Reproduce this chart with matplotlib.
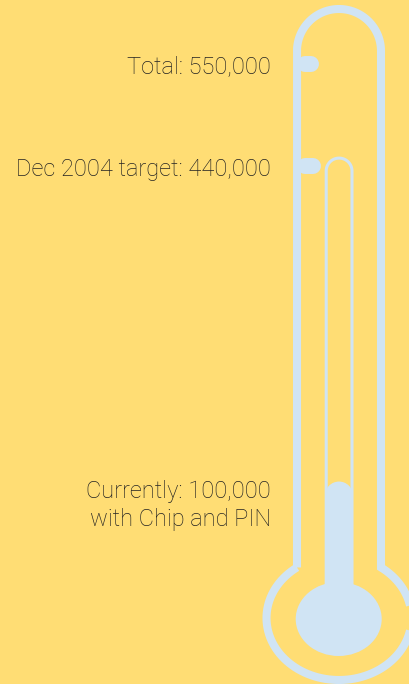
import matplotlib.pyplot as plt
from matplotlib.patches import Ellipse, Rectangle, Circle
import numpy as np

# chart data
labels = ['Total: 550,000', 'Dec 2004 target: 440,000',
          'Currently: 100,000\nwith Chip and PIN']
values = [550000, 440000, 100000]   # total, target, current

bg = '#FFDD74'
blue = '#D0E4F4'
ink = '#222222'

W, H = 409, 684
v_top, v_bot = 618500, -118000      # value scale at top/bottom edge
k = (v_top - v_bot) / H              # value units per pixel

def X(px):
    return np.asarray(px) * k

def Y(py):
    return v_top - np.asarray(py) * k

fig = plt.figure(figsize=(W / 100, H / 100), dpi=100, facecolor=bg)
ax = fig.add_axes([0, 0, 1, 1])
ax.set_facecolor(bg)
ax.set_xlim(0, W * k)
ax.set_ylim(v_bot, v_top)
ax.set_aspect('equal')
ax.axis('off')

# outer glass outline (pixel geometry)
cx = 339
lx, rx, r_top, cy_top = 297, 381, 42, 51
a, b, cy_ring = 72.5, 62, 618
t_left = np.degrees(np.arccos((lx - cx) / a))
t_right = 180 - t_left
th = np.linspace(np.pi, 0, 60)
top_x = cx + r_top * np.cos(th)
top_y = cy_top - r_top * np.sin(th)
t_r = np.radians(np.linspace(t_right, t_left - 360, 200))
ring_x = cx + a * np.cos(t_r)
ring_y = cy_ring - b * np.sin(t_r)
ox = np.concatenate([[lx], top_x, [rx], ring_x])
oy = np.concatenate([[ring_y[-1]], top_y, [ring_y[0]], ring_y])
ax.plot(X(ox), Y(oy), color=blue, lw=5.8, solid_joinstyle='miter',
        solid_capstyle='butt', zorder=2)

# inner capillary outline
ir, icy, ix = 12.9, 171, 339.1
th2 = np.linspace(np.pi, 0, 40)
inx = np.concatenate([[ix - ir], ix + ir * np.cos(th2), [ix + ir]])
iny = np.concatenate([[600], icy - ir * np.sin(th2), [600]])
ax.plot(X(inx), Y(iny), color=blue, lw=2.2, zorder=2)

# bulb
ax.add_patch(Ellipse((X(338.7), Y(619)), 86 * k, 74 * k, color=blue, lw=0, zorder=3))

# mercury column up to the current value
fr = 14 * k
ax.add_patch(Rectangle((X(339) - fr, Y(619)), 2 * fr, values[2] - fr - Y(619),
                       color=blue, lw=0, zorder=3))
ax.add_patch(Circle((X(339), values[2] - fr), fr, color=blue, lw=0, zorder=3))

# scale ticks for total and target
for v, end in zip(values[:2], [311, 313]):
    ax.plot(X([lx + 8, end]), [v, v], color=blue, lw=11.5, solid_capstyle='round', zorder=2)

# labels
font = dict(family=['Roboto', 'DejaVu Sans'], weight='light', fontsize=17.0, color=ink)
for lab, v in zip(labels[:2], values[:2]):
    ax.text(X(271), v - 10 * k, lab, ha='right', va='baseline', **font)
for i, line in enumerate(labels[2].split('\n')):
    ax.text(X(271), values[2] - (16.5 + 28 * i) * k, line, ha='right', va='baseline', **font)

fig.savefig('out.png', dpi=100, facecolor=bg)
